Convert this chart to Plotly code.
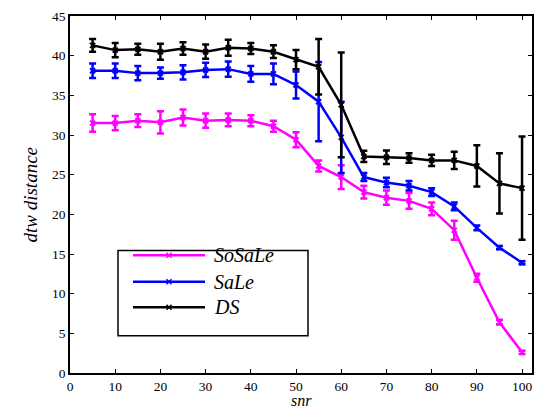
import plotly.graph_objects as go

snr = [5, 10, 15, 20, 25, 30, 35, 40, 45, 50, 55, 60, 65, 70, 75, 80, 85, 90, 95, 100]

sosale = [31.5, 31.5, 31.8, 31.6, 32.2, 31.8, 31.9, 31.8, 31.1, 29.4, 26.1, 24.7, 22.8, 22.1, 21.7, 20.7, 18.0, 12.0, 6.4, 2.6]
sosale_err = [1.1, 0.9, 0.8, 1.4, 1.0, 0.9, 0.8, 0.7, 0.7, 0.95, 0.7, 1.5, 0.8, 0.9, 1.0, 0.8, 1.2, 0.5, 0.3, 0.2]

sale = [38.1, 38.1, 37.8, 37.8, 37.9, 38.2, 38.3, 37.7, 37.7, 36.3, 34.2, 29.7, 24.7, 24.0, 23.6, 22.8, 21.0, 18.3, 15.8, 13.9]
sale_err = [0.9, 0.9, 0.9, 0.7, 0.9, 0.9, 0.95, 1.0, 1.3, 1.7, 5.0, 4.5, 0.5, 0.6, 0.6, 0.5, 0.5, 0.3, 0.2, 0.2]

ds = [41.3, 40.7, 40.8, 40.5, 40.9, 40.5, 41.0, 40.9, 40.5, 39.5, 38.6, 33.8, 27.3, 27.2, 27.1, 26.8, 26.8, 26.1, 23.9, 23.3]
ds_err = [0.8, 0.9, 0.7, 1.0, 0.8, 0.9, 1.0, 0.7, 0.8, 1.2, 3.5, 6.6, 0.7, 0.85, 0.6, 0.7, 1.1, 2.6, 3.8, 6.5]

names = ["SoSaLe", "SaLe", "DS"]
colors = ["#ff00ff", "#0000ff", "#000000"]
series = [(sosale, sosale_err), (sale, sale_err), (ds, ds_err)]

FONT = "Liberation Serif"
W, H = 546, 410
ML, MR, MT, MB = 70, 14, 9, 37
PW, PH = W - ML - MR, H - MT - MB


def px2x(px):
    return (px - ML) / PW


def px2y(py):
    return (H - MB - py) / PH


fig = go.Figure()
for name, color, (vals, errs) in zip(names, colors, series):
    fig.add_trace(go.Scatter(
        x=snr, y=vals, name=name, mode="lines+markers", showlegend=False,
        line=dict(color=color, width=2.5),
        marker=dict(symbol="x-thin", size=5, color=color, line=dict(color=color, width=2)),
        error_y=dict(type="data", array=errs, visible=True, color=color, thickness=2.5, width=3.5),
    ))

axis_common = dict(
    showgrid=False, zeroline=False, showline=True, linecolor="black", linewidth=1.5,
    mirror="ticks", ticks="inside", ticklen=4, tickwidth=1, tickcolor="black",
    tickfont=dict(family=FONT, size=13.5, color="black"),
)

fig.update_layout(
    width=W, height=H,
    margin=dict(l=ML, r=MR, t=MT, b=MB),
    plot_bgcolor="white", paper_bgcolor="white",
    xaxis=dict(range=[0, 102.2], tickvals=list(range(0, 101, 10)), ticklabelstandoff=0, **axis_common),
    yaxis=dict(range=[0, 45], tickvals=list(range(0, 46, 5)), **axis_common),
    showlegend=False,
    font=dict(family=FONT, color="black"),
)

# legend box (drawn manually to match the long sample lines of the original)
box_l, box_t, box_r, box_b = 118, 248, 308, 335
fig.add_shape(type="rect", xref="paper", yref="paper",
              x0=px2x(box_l), x1=px2x(box_r), y0=px2y(box_b), y1=px2y(box_t),
              line=dict(color="black", width=1.5), fillcolor="white", layer="above")
row_y = [253, 280, 306]
for name, color, ry in zip(names, colors, row_y):
    fig.add_shape(type="line", xref="paper", yref="paper",
                  x0=px2x(133), x1=px2x(205), y0=px2y(ry), y1=px2y(ry),
                  line=dict(color=color, width=2.5), layer="above")
    mx = 169
    d = 2.5
    path = (f"M{px2x(mx - d)},{px2y(ry - d)} L{px2x(mx + d)},{px2y(ry + d)} "
            f"M{px2x(mx - d)},{px2y(ry + d)} L{px2x(mx + d)},{px2y(ry - d)}")
    fig.add_shape(type="path", xref="paper", yref="paper", path=path,
                  line=dict(color=color, width=1.5), layer="above")
    fig.add_annotation(text=f"<i>{name}</i>", xref="paper", yref="paper",
                       x=px2x(212), y=px2y(ry), xanchor="left", yanchor="middle",
                       showarrow=False, font=dict(family=FONT, size=20, color="black"))

fig.add_annotation(
    text="<i>snr</i>", xref="paper", yref="paper", x=0.5, y=0, yshift=-36.5,
    xanchor="center", yanchor="bottom", showarrow=False, borderpad=0,
    font=dict(family=FONT, size=16, color="black"),
)
fig.add_annotation(
    text="<i>dtw distance</i>", xref="paper", yref="paper", x=0, y=0.5, xshift=-40,
    xanchor="center", yanchor="middle", textangle=-90, showarrow=False,
    font=dict(family=FONT, size=19, color="black"),
)

fig.write_html("out.html", config={"displayModeBar": False},
               post_script="document.body.style.margin='0px';")
